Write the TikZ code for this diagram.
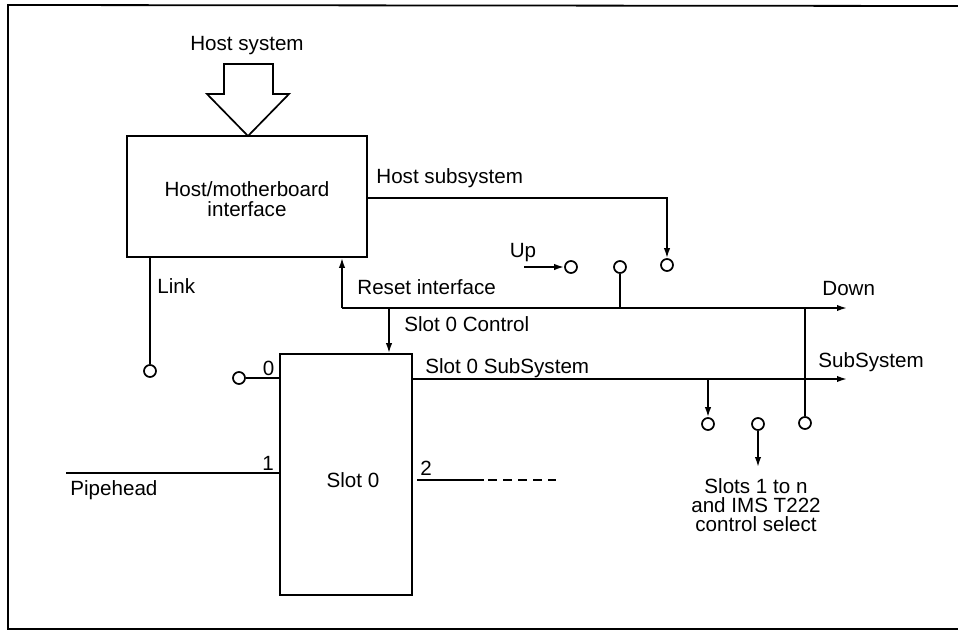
\documentclass[tikz,border=0pt]{standalone}
\usepackage{fontspec}
\setmainfont{Liberation Sans}
\usetikzlibrary{arrows.meta}
\begin{document}
\begin{tikzpicture}[x=0.5pt,y=-0.5pt,
  every node/.style={font=\fontsize{10.3}{10}\selectfont, inner sep=0pt},
  ln/.style={line width=0.85pt},
  arr/.style={line width=0.85pt,-{Latex[length=5pt,width=3.2pt]}},
  box/.style={draw,line width=0.85pt,rectangle},
  term/.style={draw,circle,line width=0.85pt,minimum size=6pt,inner sep=0pt,fill=white},
  lbl/.style={anchor=west}]
\useasboundingbox (0,0) rectangle (958,632);
% frame
\draw[line width=0.9pt] (958,6) -- (8,5) -- (8,629) -- (958,629);
% host system arrow
\node (hostsys) at (247,46) {Host system};
\node[box,minimum width=120pt,minimum height=60.5pt] (host) at (247,196.5) {};
\node[align=center,font=\fontsize{10.3}{10}\selectfont] (hosttxt) at (247,199) {Host/motherboard\\interface};
\draw[line width=0.85pt,fill=white] (224,64) -- (273,64) -- (273,94) -- (289,94) -- (248,136) -- (207,94) -- (224,94) -- cycle;
% slot box
\node[box,minimum width=66pt,minimum height=120.5pt] (slot) at (346,474.5) {};
\node (slottxt) at (353,480) {Slot 0};
% terminals
\node[term] (chs) at (667,265) {};
\node[term] (cup) at (571,267) {};
\node[term] (cmid) at (620,267) {};
\node[term] (clink) at (150,371) {};
\node[term] (c0) at (239,378) {};
\node[term] (ca) at (708,424) {};
\node[term] (cb) at (758,424) {};
\node[term] (cr) at (805,423) {};
% coordinates
\coordinate (upstart) at (524,267);
\coordinate (rc) at (342,308);
\coordinate (downend) at (847,308);
\coordinate (ctl) at (389,308);
\coordinate (pipe) at (66,473);
\coordinate (p2a) at (417,480);
\coordinate (p2b) at (484,480);
\coordinate (p2c) at (556,480);
\coordinate (ssL) at (412,379);
\coordinate (ssR) at (847,379);
\coordinate (dtap) at (805,308);
\coordinate (stap) at (708,379);
\coordinate (midtap) at (620,308);
\coordinate (selend) at (758,467);
% connectors
\draw[arr] (host.east |- 0,198) -| (chs.north);
\draw[arr] (upstart) -- (cup.west);
\draw[ln] (cmid.south) -- (midtap);
\draw[arr] (rc) -- (downend);
\draw[arr] (rc) -- (rc |- host.south);
\draw[arr] (ctl) -- (ctl |- slot.north);
\draw[ln] (clink.north |- host.south) -- (clink.north);
\draw[ln] (c0.east) -- (c0.east -| slot.west);
\draw[ln] (pipe) -- (pipe -| slot.west);
\draw[ln] (p2a) -- (p2b);
\draw[ln,dash pattern=on 4.5pt off 3pt] (p2b) ++(4,0) -- (p2c);
\draw[arr] (ssL) -- (ssR);
\draw[ln] (dtap) -- (cr.north);
\draw[arr] (stap) -- (ca.north);
\draw[arr] (cb.south) -- (selend);
% labels
\node[lbl] (lhs) at (376,178) {Host subsystem};
\node (lup) at (523,253) {Up};
\node[lbl] (lreset) at (357,287) {Reset interface};
\node[lbl] (ldown) at (822,289) {Down};
\node[lbl] (llink) at (157,286) {Link};
\node[lbl] (lctl) at (404,324) {Slot 0 Control};
\node[lbl] (lss) at (425,368) {Slot 0 SubSystem};
\node[lbl] (lss2) at (818,362) {SubSystem};
\node (l0) at (268.5,368) {0};
\node (l1) at (268,463) {1};
\node (l2) at (426,468) {2};
\node[lbl] (lpipe) at (70,490) {Pipehead};
\node[align=center,font=\fontsize{10.3}{9.4}\selectfont] (lsel) at (756,505) {Slots 1 to n\\and IMS T222\\control select};
\end{tikzpicture}
\end{document}
